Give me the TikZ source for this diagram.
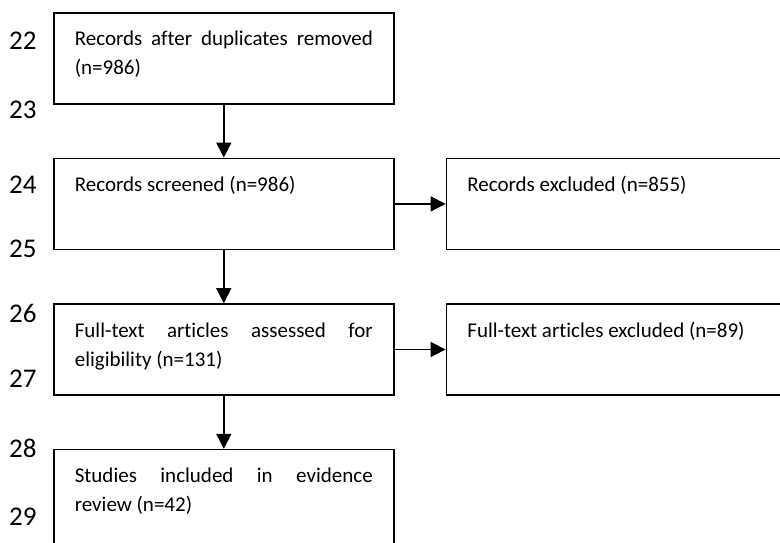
\documentclass[tikz,border=0pt]{standalone}
\usepackage{fontspec}
\setmainfont{Carlito}[Ligatures={NoCommon}]
\usetikzlibrary{positioning, arrows.meta}
\tolerance=10000
% text of a box: justified, set at the top of a fixed height
\newcommand{\flowtext}[2][65.6pt]{\parbox[c][#1][t]{298pt}{\hyphenpenalty=10000\exhyphenpenalty=10000\strut #2}}

\begin{document}
\begin{tikzpicture}[x=1pt, y=-1pt, font=\fontsize{21}{29}\selectfont,
  stage/.style={rectangle, draw, line width=1.6pt, inner xsep=21pt, inner ysep=12.7pt},
  flow/.style={-{Triangle[length=15pt, width=15pt]}, line width=1.6pt},
  lineno/.style={anchor=base west, inner sep=0pt, font=\fontsize{27}{32}\selectfont},
]
  \useasboundingbox (0,0) rectangle (780,543);
  \clip (0,0) rectangle (780,543);
  % line numbers of the manuscript
  \foreach \n/\y in {22/50, 23/118, 24/193, 25/257, 26/322, 27/387, 28/457, 29/525}
    \node[lineno] (ln\n) at (9,\y) {\n};
  \node[stage, anchor=north west] (dedup) at (53,12)
    {\flowtext{Records after duplicates removed\linebreak (n=986)}};
  \node[stage, below=53pt of dedup] (screened)
    {\flowtext{Records screened (n=986)}};
  \node[stage, right=51pt of screened] (excluded)
    {\flowtext{Records excluded (n=855)}};
  \node[stage, below=53pt of screened] (fulltext)
    {\flowtext{Full-text articles assessed for\linebreak eligibility (n=131)}};
  \node[stage, right=51pt of fulltext] (ftexcluded)
    {\flowtext{Full-text articles excluded (n=89)}};
  \node[stage, anchor=north] (included) at ([yshift=-53pt]fulltext.south)
    {\flowtext[100pt]{Studies included in evidence\linebreak review (n=42)}};
  \draw[flow] (dedup) -- (screened);
  \draw[flow] (screened) -- (fulltext);
  \draw[flow] (fulltext) -- (included);
  \draw[flow] (screened) -- (excluded);
  \draw[flow] (fulltext) -- (ftexcluded);
\end{tikzpicture}
\end{document}
